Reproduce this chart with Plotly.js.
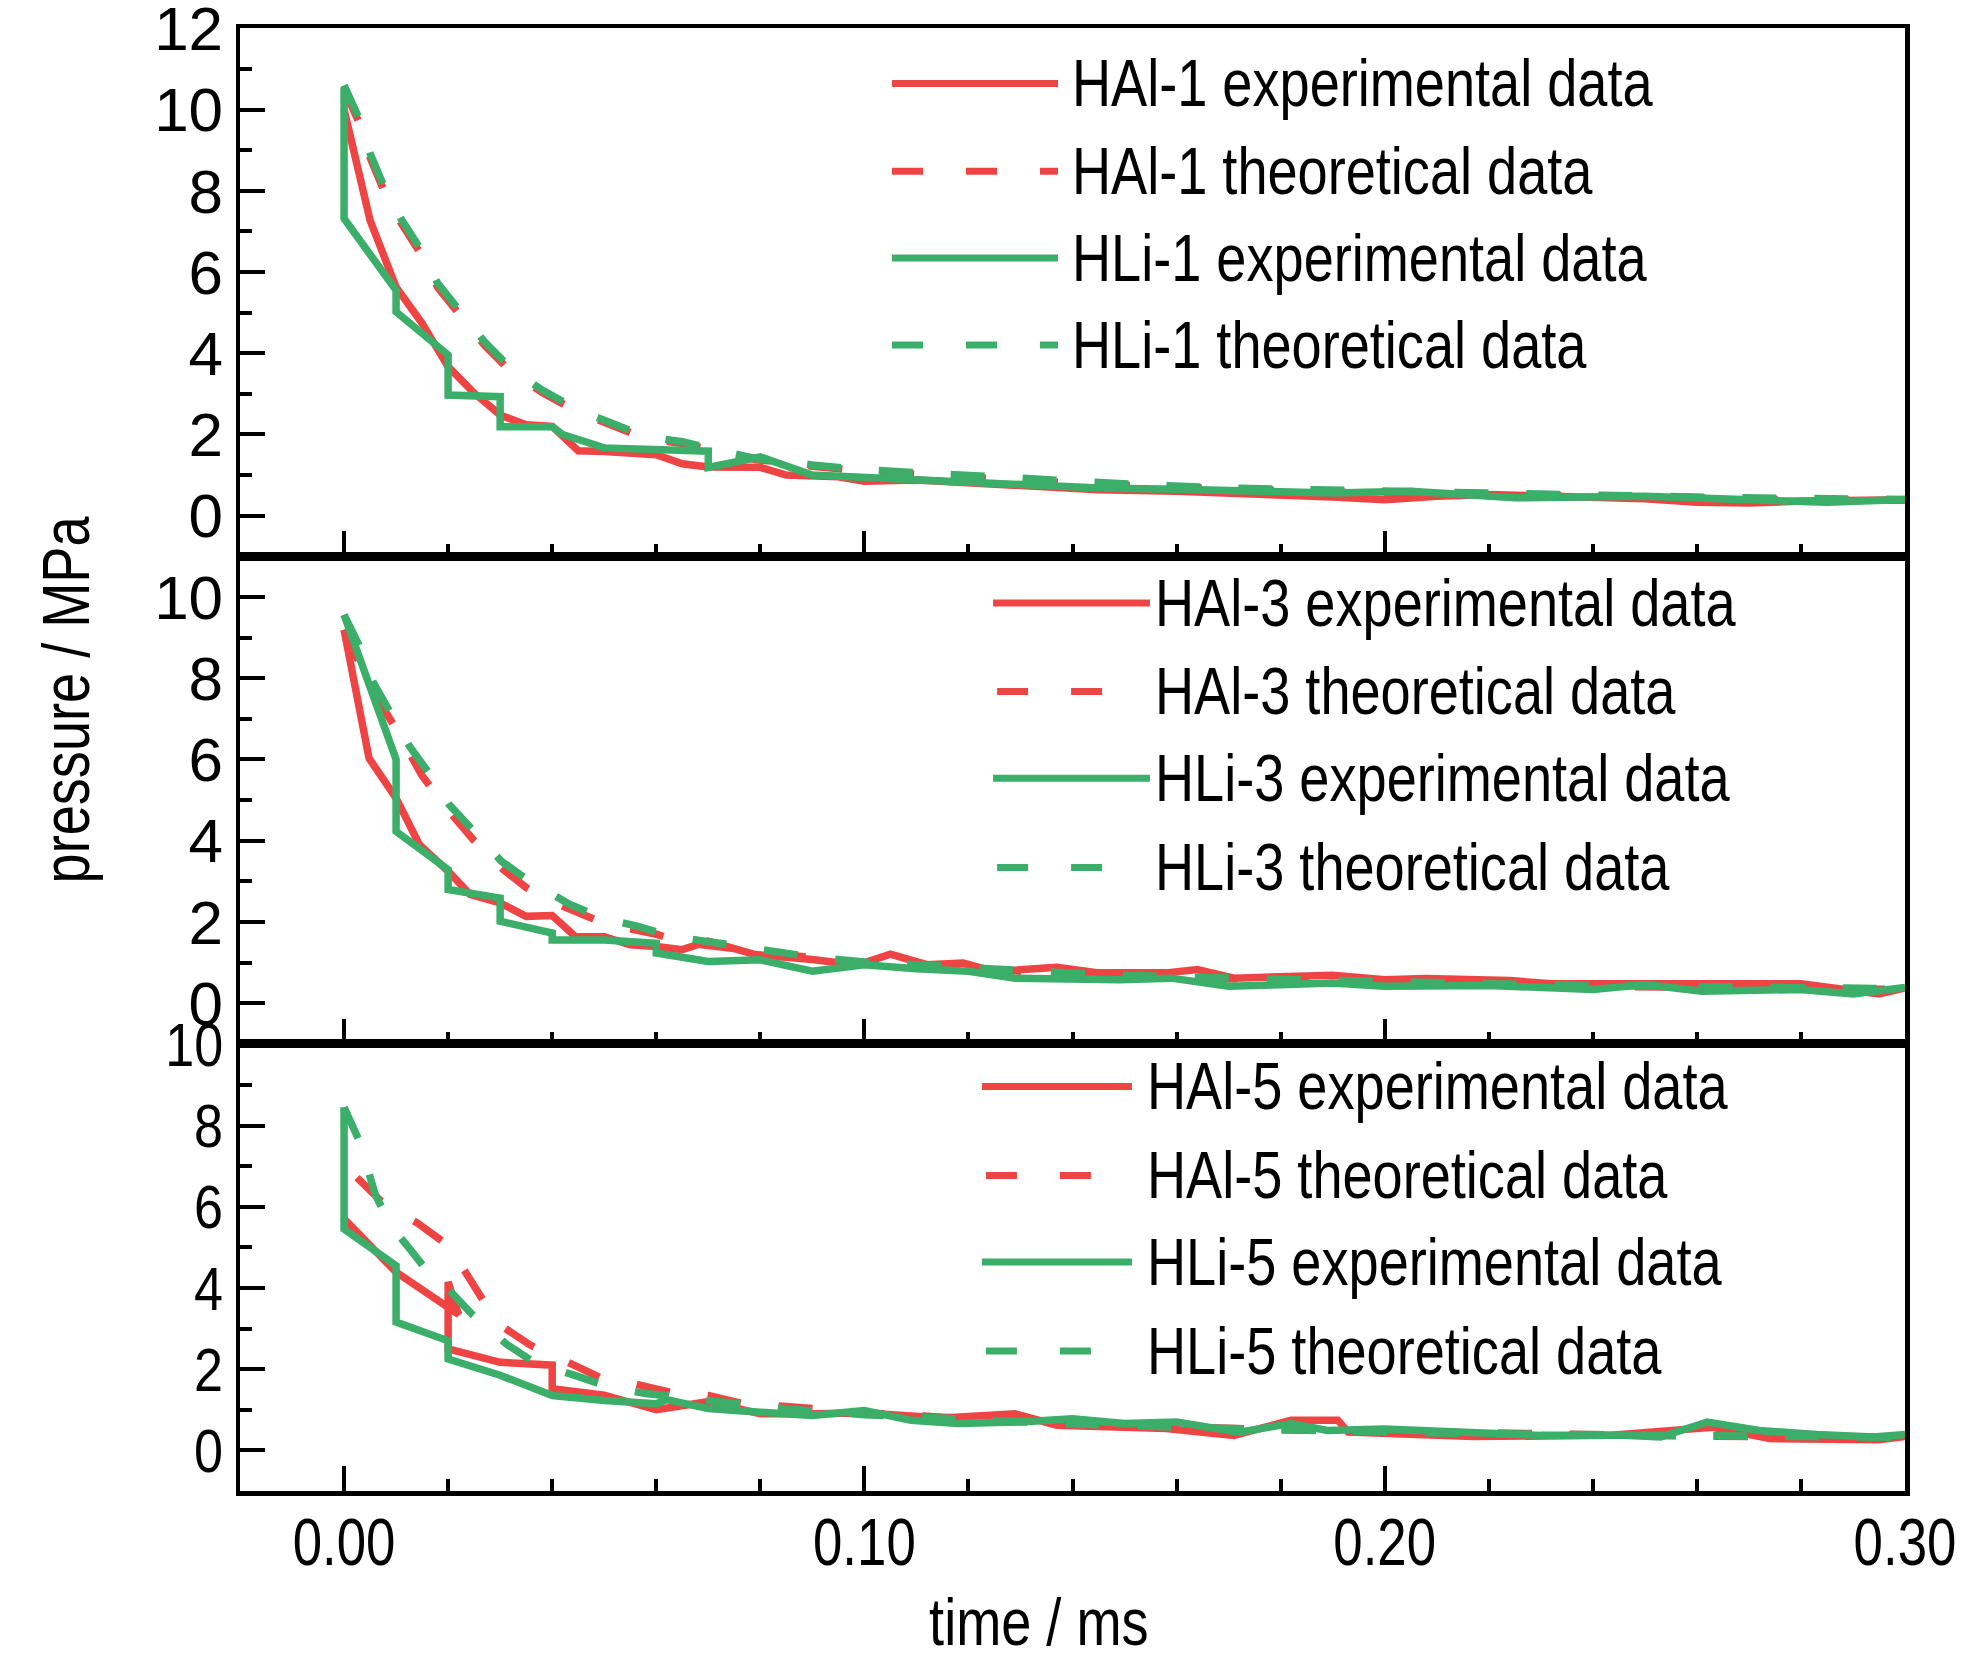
<!DOCTYPE html>
<html>
<head>
<meta charset="utf-8">
<script src="https://cdn.plot.ly/plotly-3.0.1.min.js"></script>
<style>
  html, body { margin: 0; padding: 0; background: #fff; }
  #chart { width: 1984px; height: 1654px; }
</style>
</head>
<body>
<div id="chart"></div>
<script>
// 세 패널 압력-시간 곡선 (HAl / HLi, 실험값 실선 · 이론값 점선)

// ── 상단 패널: HAl-1 / HLi-1 ──
const tAl1Exp = [0, 0.005, 0.01, 0.015, 0.02, 0.025, 0.03, 0.035, 0.04, 0.045, 0.05, 0.06, 0.065, 0.07, 0.08, 0.085, 0.095, 0.10, 0.11, 0.12, 0.13, 0.145, 0.16, 0.175, 0.19, 0.20, 0.21, 0.22, 0.235, 0.25, 0.26, 0.27, 0.28, 0.29, 0.30];
const pAl1Exp = [10.0, 7.27, 5.63, 4.74, 3.67, 3.02, 2.48, 2.24, 2.2, 1.6, 1.58, 1.5, 1.28, 1.2, 1.19, 1.0, 0.96, 0.85, 0.88, 0.8, 0.72, 0.64, 0.6, 0.55, 0.46, 0.39, 0.48, 0.52, 0.46, 0.42, 0.33, 0.31, 0.36, 0.38, 0.39];
const tTh1 = [0, 0.003, 0.005, 0.008, 0.011, 0.015, 0.018, 0.023, 0.027, 0.032, 0.038, 0.045, 0.052, 0.058, 0.065, 0.072, 0.079, 0.086, 0.09, 0.10, 0.11, 0.125, 0.14, 0.155, 0.17, 0.185, 0.20, 0.215, 0.23, 0.245, 0.26, 0.275, 0.29, 0.30];
const pAl1Th = [10.5, 9.65, 8.82, 7.9, 7.2, 6.4, 5.62, 4.85, 4.2, 3.55, 3.04, 2.55, 2.22, 1.9, 1.78, 1.58, 1.38, 1.3, 1.22, 1.1, 1.02, 0.9, 0.8, 0.72, 0.65, 0.6, 0.56, 0.52, 0.48, 0.45, 0.43, 0.4, 0.38, 0.38];
const tLi1Exp = [0, 0, 0.01, 0.01, 0.02, 0.02, 0.03, 0.03, 0.04, 0.042, 0.05, 0.06, 0.07, 0.07, 0.08, 0.09, 0.10, 0.115, 0.13, 0.145, 0.16, 0.175, 0.19, 0.205, 0.218, 0.225, 0.25, 0.27, 0.285, 0.30];
const pLi1Exp = [10.55, 7.32, 5.55, 5.02, 3.96, 2.97, 2.93, 2.19, 2.19, 2.0, 1.67, 1.62, 1.59, 1.19, 1.45, 1.0, 0.94, 0.88, 0.8, 0.68, 0.65, 0.6, 0.56, 0.6, 0.52, 0.44, 0.48, 0.42, 0.33, 0.4];
const pLi1Th = [10.6, 9.75, 8.92, 8.0, 7.3, 6.5, 5.72, 4.94, 4.28, 3.63, 3.1, 2.6, 2.27, 1.95, 1.82, 1.62, 1.41, 1.33, 1.25, 1.13, 1.06, 0.93, 0.84, 0.75, 0.68, 0.64, 0.6, 0.56, 0.5, 0.48, 0.46, 0.43, 0.4, 0.4];

// ── 중간 패널: HAl-3 / HLi-3 ──
const tAl3Exp = [0, 0.0048, 0.01, 0.0145, 0.02, 0.0242, 0.03, 0.035, 0.04, 0.0445, 0.05, 0.055, 0.06, 0.065, 0.07, 0.079, 0.09, 0.095, 0.10, 0.105, 0.112, 0.119, 0.125, 0.137, 0.145, 0.158, 0.164, 0.171, 0.19, 0.20, 0.208, 0.224, 0.232, 0.247, 0.261, 0.28, 0.295, 0.30];
const pAl3Exp = [9.19, 6.03, 5.05, 3.9, 3.25, 2.68, 2.47, 2.14, 2.16, 1.64, 1.64, 1.44, 1.4, 1.32, 1.53, 1.2, 1.08, 1.0, 1.0, 1.21, 0.95, 0.99, 0.78, 0.89, 0.75, 0.75, 0.83, 0.62, 0.69, 0.58, 0.61, 0.56, 0.48, 0.5, 0.48, 0.48, 0.23, 0.38];
const tAl3Th = [0, 0.005, 0.01, 0.015, 0.02, 0.025, 0.03, 0.035, 0.04, 0.045, 0.05, 0.06, 0.065, 0.07, 0.08, 0.09, 0.10, 0.12, 0.14, 0.16, 0.18, 0.20, 0.22, 0.24, 0.26, 0.28, 0.30];
const pAl3Th = [9.2, 7.8, 6.75, 5.6, 4.75, 4.0, 3.35, 2.85, 2.5, 2.25, 1.97, 1.7, 1.5, 1.42, 1.26, 1.12, 1.0, 0.84, 0.72, 0.63, 0.56, 0.5, 0.46, 0.42, 0.39, 0.36, 0.34];
const tLi3Exp = [0, 0.01, 0.01, 0.02, 0.02, 0.03, 0.03, 0.04, 0.04, 0.05, 0.06, 0.06, 0.07, 0.08, 0.09, 0.10, 0.11, 0.12, 0.129, 0.149, 0.159, 0.17, 0.18, 0.19, 0.20, 0.22, 0.24, 0.25, 0.261, 0.271, 0.28, 0.29, 0.30];
const pLi3Exp = [9.56, 6.0, 4.23, 3.29, 2.8, 2.59, 2.02, 1.73, 1.56, 1.56, 1.48, 1.24, 1.03, 1.07, 0.79, 0.95, 0.85, 0.79, 0.62, 0.58, 0.62, 0.42, 0.46, 0.5, 0.42, 0.44, 0.34, 0.46, 0.3, 0.34, 0.34, 0.23, 0.39];
const tLi3Th = [0, 0.003, 0.0056, 0.009, 0.0127, 0.0167, 0.0202, 0.025, 0.0302, 0.0357, 0.043, 0.0495, 0.0563, 0.063, 0.0708, 0.077, 0.0846, 0.091, 0.10, 0.12, 0.14, 0.16, 0.18, 0.20, 0.22, 0.24, 0.26, 0.28, 0.30];
const pLi3Th = [9.56, 8.78, 7.9, 7.1, 6.3, 5.6, 4.89, 4.23, 3.5, 3.0, 2.46, 2.1, 1.9, 1.65, 1.5, 1.4, 1.24, 1.12, 1.02, 0.86, 0.74, 0.65, 0.58, 0.52, 0.48, 0.44, 0.41, 0.38, 0.36];

// ── 하단 패널: HAl-5 / HLi-5 ──
const tAl5Exp = [0, 0.01, 0.022, 0.02, 0.02, 0.03, 0.04, 0.04, 0.05, 0.06, 0.07, 0.08, 0.09, 0.10, 0.115, 0.129, 0.137, 0.158, 0.171, 0.182, 0.191, 0.193, 0.217, 0.243, 0.263, 0.274, 0.295, 0.30];
const pAl5Exp = [5.7, 4.39, 3.35, 4.15, 2.5, 2.17, 2.1, 1.52, 1.36, 1.0, 1.2, 0.9, 0.9, 0.92, 0.8, 0.9, 0.62, 0.54, 0.37, 0.74, 0.74, 0.45, 0.34, 0.37, 0.57, 0.29, 0.26, 0.34];
const tAl5Th = [0.0025, 0.0074, 0.0141, 0.0202, 0.0295, 0.0357, 0.0425, 0.0491, 0.0561, 0.0627, 0.07, 0.0766, 0.085, 0.095, 0.10, 0.12, 0.14, 0.16, 0.18, 0.20, 0.22, 0.24, 0.26, 0.28, 0.30];
const pAl5Th = [6.72, 6.1, 5.6, 5.03, 3.13, 2.6, 2.2, 1.8, 1.63, 1.43, 1.35, 1.15, 1.08, 0.98, 0.93, 0.78, 0.67, 0.58, 0.51, 0.46, 0.42, 0.38, 0.35, 0.33, 0.31];
const tLi5Exp = [0, 0, 0.01, 0.01, 0.02, 0.02, 0.03, 0.04, 0.05, 0.06, 0.062, 0.07, 0.08, 0.09, 0.10, 0.109, 0.118, 0.13, 0.14, 0.15, 0.16, 0.172, 0.182, 0.189, 0.20, 0.217, 0.23, 0.246, 0.253, 0.262, 0.272, 0.283, 0.294, 0.30];
const pLi5Exp = [8.45, 5.45, 4.55, 3.16, 2.7, 2.25, 1.85, 1.35, 1.23, 1.15, 1.25, 1.03, 0.94, 0.86, 0.98, 0.74, 0.66, 0.7, 0.78, 0.66, 0.7, 0.45, 0.66, 0.49, 0.53, 0.43, 0.37, 0.37, 0.33, 0.7, 0.49, 0.39, 0.33, 0.39];
const tLi5Th = [0, 0.003, 0.006, 0.0092, 0.0127, 0.0167, 0.0202, 0.0246, 0.0312, 0.0365, 0.0445, 0.051, 0.058, 0.065, 0.075, 0.085, 0.10, 0.12, 0.14, 0.16, 0.18, 0.20, 0.22, 0.24, 0.26, 0.28, 0.30];
const pLi5Th = [8.45, 7.6, 6.3, 5.5, 4.95, 4.3, 3.95, 3.35, 2.62, 2.17, 1.84, 1.56, 1.4, 1.3, 1.15, 1.02, 0.88, 0.75, 0.65, 0.57, 0.5, 0.45, 0.41, 0.38, 0.35, 0.33, 0.32];

const legend1 = ['HAl-1 experimental data', 'HAl-1 theoretical data', 'HLi-1 experimental data', 'HLi-1 theoretical data'];
const legend3 = ['HAl-3 experimental data', 'HAl-3 theoretical data', 'HLi-3 experimental data', 'HLi-3 theoretical data'];
const legend5 = ['HAl-5 experimental data', 'HAl-5 theoretical data', 'HLi-5 experimental data', 'HLi-5 theoretical data'];

const xTickVals = [0, 0.1, 0.2, 0.3];
const xTickText = ['0.00', '0.10', '0.20', '0.30'];
const yTickVals = [0, 2, 4, 6, 8, 10, 12];

const RED = '#EF4444';
const GREEN = '#3BAE6A';
// Arial Narrow 계열이 없어서 Liberation Sans 를 쓰고, 그린 뒤 가로폭만 줄임 (squeeze)
const FONT = '"Liberation Sans Narrow", "Arial Narrow", "Liberation Sans", Arial, sans-serif';
const LW = 7.5;
const TH_DASH = '34px,38px';
const STYLE = [
  { color: RED, dash: 'solid' },
  { color: RED, dash: TH_DASH },
  { color: GREEN, dash: 'solid' },
  { color: GREEN, dash: TH_DASH },
];

function line(x, y, ax, k) {
  return {
    x, y, xaxis: ax.x, yaxis: ax.y, type: 'scatter', mode: 'lines',
    line: { color: STYLE[k].color, dash: STYLE[k].dash, width: LW },
    hoverinfo: 'skip', showlegend: false,
  };
}

const AX1 = { x: 'x3', y: 'y3' }; // 상단
const AX3 = { x: 'x2', y: 'y2' }; // 중간
const AX5 = { x: 'x', y: 'y' };   // 하단

const traces = [
  line(tAl1Exp, pAl1Exp, AX1, 0), line(tTh1, pAl1Th, AX1, 1), line(tLi1Exp, pLi1Exp, AX1, 2), line(tTh1, pLi1Th, AX1, 3),
  line(tAl3Exp, pAl3Exp, AX3, 0), line(tAl3Th, pAl3Th, AX3, 1), line(tLi3Exp, pLi3Exp, AX3, 2), line(tLi3Th, pLi3Th, AX3, 3),
  line(tAl5Exp, pAl5Exp, AX5, 0), line(tAl5Th, pAl5Th, AX5, 1), line(tLi5Exp, pLi5Exp, AX5, 2), line(tLi5Th, pLi5Th, AX5, 3),
];

// 범례: Plotly 기본 범례는 샘플선이 짧아 shape+annotation 으로 직접 그림
// pos.x0/x1 = 실선 샘플, pos.dx0/dx1 = 점선 샘플 (패널마다 조금씩 다름)
const LEG_SAMPLE_DASH = '31px,43px';
function addLegend(shapes, annotations, texts, ax, pos) {
  texts.forEach((t, k) => {
    const dashed = STYLE[k].dash !== 'solid';
    shapes.push({
      type: 'line', xref: ax.x + ' domain', yref: ax.y + ' domain',
      x0: dashed ? pos.dx0 : pos.x0, x1: dashed ? pos.dx1 : pos.x1, y0: pos.rows[k], y1: pos.rows[k],
      line: { color: STYLE[k].color, width: 7, dash: dashed ? LEG_SAMPLE_DASH : 'solid' },
    });
    annotations.push({
      xref: ax.x + ' domain', yref: ax.y + ' domain', x: pos.tx, y: pos.rows[k],
      xanchor: 'left', yanchor: 'middle', align: 'left', showarrow: false, text: t,
      font: { family: FONT, size: 66, color: '#000' },
    });
  });
}

const shapes = [], annotations = [];
addLegend(shapes, annotations, legend1, AX1, { x0: 0.3916, x1: 0.4913, dx0: 0.3916, dx1: 0.4913, tx: 0.4985, rows: [0.895, 0.729, 0.5645, 0.40] });
addLegend(shapes, annotations, legend3, AX3, { x0: 0.4523, x1: 0.5465, dx0: 0.4547, dx1: 0.5189, tx: 0.5484, rows: [0.904, 0.723, 0.545, 0.362] });
addLegend(shapes, annotations, legend5, AX5, { x0: 0.4456, x1: 0.5357, dx0: 0.4480, dx1: 0.5111, tx: 0.5434, rows: [0.905, 0.706, 0.512, 0.313] });

annotations.push({
  xref: 'paper', yref: 'paper', x: -0.105, y: 0.541, textangle: -90,
  xanchor: 'center', yanchor: 'middle', showarrow: false, text: 'pressure / MPa',
  font: { family: FONT, size: 66, color: '#000' },
});
annotations.push({
  xref: 'paper', yref: 'paper', x: 0.480, y: -0.063,
  xanchor: 'center', yanchor: 'top', showarrow: false, text: 'time / ms',
  font: { family: FONT, size: 66, color: '#000' },
});

function xAxis(anchor, labels) {
  return {
    anchor, matches: anchor === 'y' ? undefined : 'x',
    range: [-0.02, 0.30], tickvals: xTickVals, ticktext: xTickText,
    showticklabels: labels, ticks: 'inside', ticklen: 25, tickwidth: 4, tickcolor: '#000',
    minor: { ticks: 'inside', dtick: 0.02, tick0: 0, ticklen: 12, tickwidth: 4, tickcolor: '#000' },
    showline: true, linewidth: 4.5, linecolor: '#000', mirror: true,
    showgrid: false, zeroline: false, ticklabelstandoff: -10, ticklabeloverflow: 'allow',
    tickfont: { family: FONT, size: 66, color: '#000' },
  };
}
function yAxis(anchor, domain, range) {
  return {
    anchor, domain, range, tickvals: yTickVals,
    ticks: 'inside', ticklen: 25, tickwidth: 4, tickcolor: '#000',
    minor: { ticks: 'inside', dtick: 1, tick0: 0, ticklen: 12, tickwidth: 4, tickcolor: '#000' },
    showline: true, linewidth: 4.5, linecolor: '#000', mirror: true,
    showgrid: false, zeroline: false, ticklabelstandoff: 0, ticklabeloverflow: 'allow',
    tickfont: { family: FONT, size: 62, color: '#000' },
  };
}

const layout = {
  width: 1984, height: 1654,
  paper_bgcolor: '#fff', plot_bgcolor: '#fff',
  margin: { l: 240, r: 79, t: 28, b: 163 },
  showlegend: false,
  font: { family: FONT, color: '#000' },
  xaxis: xAxis('y', true),
  xaxis2: xAxis('y2', false),
  xaxis3: xAxis('y3', false),
  yaxis: yAxis('x', [0, 11 / 36], [-1, 10.01]),
  yaxis2: yAxis('x2', [11 / 36, 23 / 36], [-1, 11]),
  yaxis3: yAxis('x3', [23 / 36, 1], [-1, 12.01]),
  shapes, annotations,
};

// 글자 가로폭만 좁힘 (원본의 narrow 서체 흉내)
function squeeze(gd, sel, r) {
  gd.querySelectorAll(sel).forEach(t => {
    const len = t.getComputedTextLength();
    if (!len) return;
    t.setAttribute('textLength', (len * r).toFixed(1));
    t.setAttribute('lengthAdjust', 'spacingAndGlyphs');
  });
}

Plotly.newPlot('chart', traces, layout, { displayModeBar: false, staticPlot: true }).then(gd => {
  squeeze(gd, '.xtick text', 0.80);
  squeeze(gd, '.ytick text', 0.84);
  squeeze(gd, '.annotation-text', 0.82);
});
</script>
</body>
</html>
